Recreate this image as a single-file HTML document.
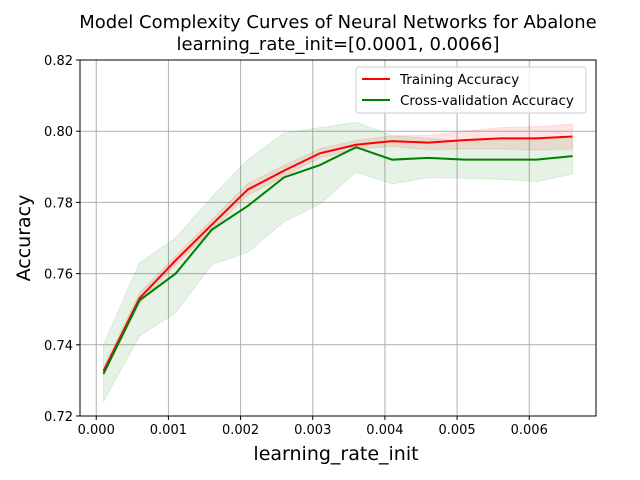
<!DOCTYPE html>
<html><head><meta charset="utf-8"><style>
body{margin:0;background:#fff;}
svg{display:block;font-family:"DejaVu Sans","Liberation Sans",sans-serif;}
</style></head><body>
<svg id="chart" width="640" height="480">
<text x="338" y="28" text-anchor="middle" font-size="18">Model Complexity Curves of Neural Networks for Abalone</text>
<text x="338" y="50" text-anchor="middle" font-size="18">learning_rate_init=[0.0001, 0.0066]</text>
<g id="grid"></g>
<g id="bands"></g>
<g id="lines"></g>
<g id="axes"></g>
<text x="336" y="460" text-anchor="middle" font-size="19">learning_rate_init</text>
<text transform="translate(30,238) rotate(-90)" text-anchor="middle" font-size="19">Accuracy</text>
<g>
<rect x="356" y="67" width="230" height="46" rx="3" fill="#fff" fill-opacity="0.8" stroke="#ccc"/>
<line x1="362" y1="79" x2="390" y2="79" stroke="red" stroke-width="2"/>
<text x="400" y="84" font-size="13.5">Training Accuracy</text>
<line x1="362" y1="100" x2="390" y2="100" stroke="green" stroke-width="2"/>
<text x="400" y="105" font-size="13.5">Cross-validation Accuracy</text>
</g>
</svg>
<script>
const xValues=[0.0001,0.0006,0.0011,0.0016,0.0021,0.0026,0.0031,0.0036,0.0041,0.0046,0.0051,0.0056,0.0061,0.0066];
const trainMean=[0.7326,0.7531,0.7637,0.7737,0.7836,0.7889,0.7938,0.7962,0.7972,0.7968,0.7975,0.798,0.798,0.7985];
const trainStd=[0.001,0.0015,0.0012,0.0015,0.0017,0.0015,0.0013,0.0012,0.0015,0.002,0.0025,0.003,0.0033,0.0035];
const cvMean=[0.7318,0.7525,0.760,0.7723,0.779,0.787,0.7905,0.7955,0.792,0.7925,0.792,0.792,0.792,0.793];
const cvLower=[0.724,0.7425,0.749,0.7625,0.766,0.7745,0.7795,0.7885,0.7852,0.787,0.7868,0.7865,0.7858,0.788];
const cvUpper=[0.740,0.763,0.770,0.7815,0.792,0.7995,0.801,0.8025,0.7988,0.798,0.7972,0.7975,0.7982,0.798];
const xTicks=[0,0.001,0.002,0.003,0.004,0.005,0.006];
const xTickLabels=["0.000","0.001","0.002","0.003","0.004","0.005","0.006"];
const yTicks=[0.72,0.74,0.76,0.78,0.80,0.82];
const yTickLabels=["0.72","0.74","0.76","0.78","0.80","0.82"];

const L=80,R=596,T=60,B=416;
const xMin=0.0001-0.000325,xMax=0.0066+0.000325,yMin=0.72,yMax=0.82;
const xs=v=>L+(v-xMin)/(xMax-xMin)*(R-L);
const ys=v=>B-(v-yMin)/(yMax-yMin)*(B-T);
const NS="http://www.w3.org/2000/svg";
function mk(tag,parent,attrs){const e=document.createElementNS(NS,tag);for(const k in attrs)e.setAttribute(k,attrs[k]);parent.appendChild(e);return e;}
const grid=document.getElementById('grid'),bands=document.getElementById('bands'),lines=document.getElementById('lines'),axes=document.getElementById('axes');
xTicks.forEach((t,i)=>{
  const g=mk('line',grid,{x1:xs(t),x2:xs(t),y1:T,y2:B,stroke:'#b0b0b0','stroke-width':1});
  
  
  mk('line',axes,{x1:xs(t),x2:xs(t),y1:B,y2:B+4,stroke:'#000'});
  const tx=mk('text',axes,{x:xs(t),y:B+18,'text-anchor':'middle','font-size':13});
  tx.textContent=xTickLabels[i];
  
  
});
yTicks.forEach((t,i)=>{
  const g=mk('line',grid,{x1:L,x2:R,y1:ys(t),y2:ys(t),stroke:'#b0b0b0','stroke-width':1});
  
  
  mk('line',axes,{x1:L-4,x2:L,y1:ys(t),y2:ys(t),stroke:'#000'});
  const tx=mk('text',axes,{x:L-7,y:ys(t)+5,'text-anchor':'end','font-size':13});
  tx.textContent=yTickLabels[i];
  
  
});
const frame=mk('rect',axes,{x:L,y:T,width:R-L,height:B-T,fill:'none',stroke:'#000','stroke-width':1});


function band(lo,hi,color){
  let d='M'+xValues.map((x,i)=>xs(x)+','+ys(hi[i])).join('L');
  for(let i=xValues.length-1;i>=0;i--)d+='L'+xs(xValues[i])+','+ys(lo[i]);
  return mk('path',bands,{d:d+'Z',fill:color,'fill-opacity':0.1,stroke:color,'stroke-opacity':0.1});
}
const tb=band(trainMean.map((m,i)=>m-trainStd[i]),trainMean.map((m,i)=>m+trainStd[i]),'red');


const cb=band(cvLower,cvUpper,'green');


const tl=mk('polyline',lines,{points:xValues.map((x,i)=>xs(x)+','+ys(trainMean[i])).join(' '),fill:'none',stroke:'red','stroke-width':2});


const cl=mk('polyline',lines,{points:xValues.map((x,i)=>xs(x)+','+ys(cvMean[i])).join(' '),fill:'none',stroke:'green','stroke-width':2});


</script>
</body></html>
